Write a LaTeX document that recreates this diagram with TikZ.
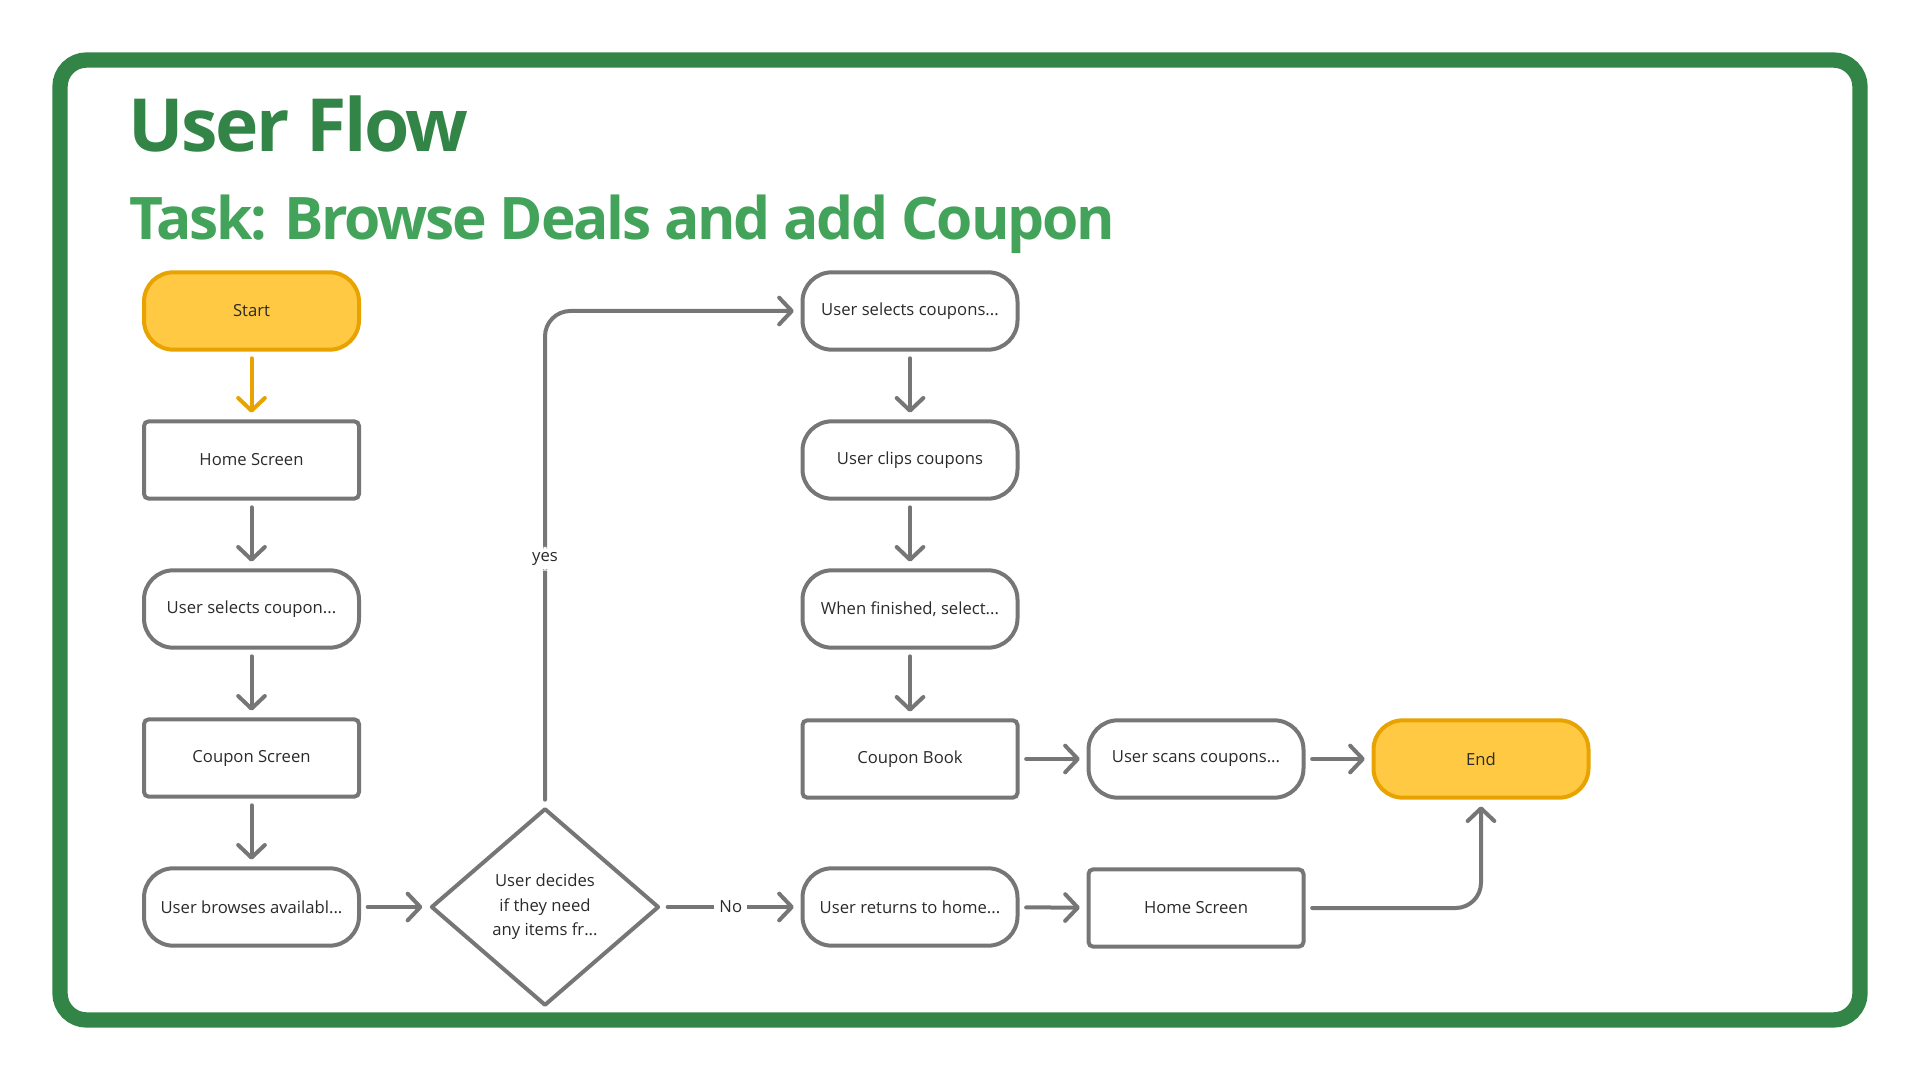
\documentclass[tikz,border=0pt]{standalone}
\usepackage{fontspec}
\setmainfont{Open Sans}
\newfontfamily\titlefont[LetterSpace=-3.2]{Open Sans}
\newfontfamily\taskfont[LetterSpace=-3.9]{Open Sans}
\usetikzlibrary{arrows.meta,shapes.geometric}
\definecolor{framegreen}{HTML}{338447}
\definecolor{taskgreen}{HTML}{43A35A}
\definecolor{linegray}{HTML}{767676}
\definecolor{textdark}{HTML}{2A2A2A}
\definecolor{startfill}{HTML}{FFC943}
\definecolor{startline}{HTML}{E8A300}
\begin{document}
\begin{tikzpicture}[x=0.75pt,y=-0.75pt]
        % Define styles for shapes
        \tikzstyle{base} = [draw=linegray, line width=3pt, text=textdark, font=\fontsize{12.5pt}{15pt}\selectfont, minimum width=161.25pt, minimum height=58pt, inner sep=0pt]
        \tikzstyle{pill} = [base, rounded corners=22pt]
        \tikzstyle{box} = [base, rounded corners=3.5pt]
        \tikzstyle{terminal} = [pill, draw=startline, fill=startfill]
        \tikzstyle{decision} = [base, diamond, minimum width=171pt, minimum height=148pt, align=center, line join=round, font=\fontsize{12.5pt}{18.4pt}\selectfont]
        \tikzstyle{flow} = [draw=linegray, line width=3pt, line cap=round, shorten <=5pt, shorten >=5pt, -{Straight Barb[length=9.5pt, width=20pt, line cap=round, line join=round]}]
        \tikzstyle{label} = [fill=white, text=textdark, font=\fontsize{12.5pt}{15pt}\selectfont, inner sep=4pt]

        \useasboundingbox (0,0) rectangle (1920,1080);

        % Frame and titles
        \draw[framegreen, line width=11.5pt, rounded corners=20pt] (60,60) rectangle (1860,1020);
        \node[anchor=base west, text=framegreen, font=\fontsize{55pt}{60pt}\titlefont\bfseries, inner sep=0pt] (title) at (128,152) {User Flow};
        \node[anchor=base west, text=taskgreen, font=\fontsize{44pt}{50pt}\taskfont\bfseries, inner sep=0pt] (task) at (129,240) {Task: Browse Deals and add Coupon};

        % Draw shapes
        \node[terminal] (start) at (251.5,311) {Start};
        \node[box] (home1) at (251.5,460) {Home Screen};
        \node[pill] (select1) at (251.5,609) {User selects coupon...};
        \node[box] (coupon1) at (251.5,758) {Coupon Screen};
        \node[pill] (browse1) at (251.5,907) {User browses availabl...};
        \node[decision] (decide1) at (545,907) {User decides\\if they need\\any items fr...};

        \node[pill] (select2) at (910,311) {User selects coupons...};
        \node[pill] (clip1) at (910,460) {User clips coupons};
        \node[pill] (finish1) at (910,609) {When finished, select...};
        \node[box] (book1) at (910,759) {Coupon Book};
        \node[pill] (return1) at (910,907) {User returns to home...};

        \node[pill] (scan1) at (1196,759) {User scans coupons...};
        \node[box] (home2) at (1196,908) {Home Screen};
        \node[terminal] (end1) at (1481,759) {End};

        % Draw connectors
        \draw[flow, draw=startline] (start) -- (home1);
        \draw[flow] (home1) -- (select1);
        \draw[flow] (select1) -- (coupon1);
        \draw[flow] (coupon1) -- (browse1);
        \draw[flow] (browse1) -- (decide1);
        \draw[flow, rounded corners=19pt] (decide1.north) |- node[label, pos=0.25] {yes} (select2.west);
        \draw[flow] (decide1) -- node[label] {No} (return1);
        \draw[flow] (select2) -- (clip1);
        \draw[flow] (clip1) -- (finish1);
        \draw[flow] (finish1) -- (book1);
        \draw[flow] (book1) -- (scan1);
        \draw[flow] (scan1) -- (end1);
        \draw[flow] (return1) -- (home2);
        \draw[flow, rounded corners=19pt] (home2.east) -| (end1.south);
\end{tikzpicture}
\end{document}
